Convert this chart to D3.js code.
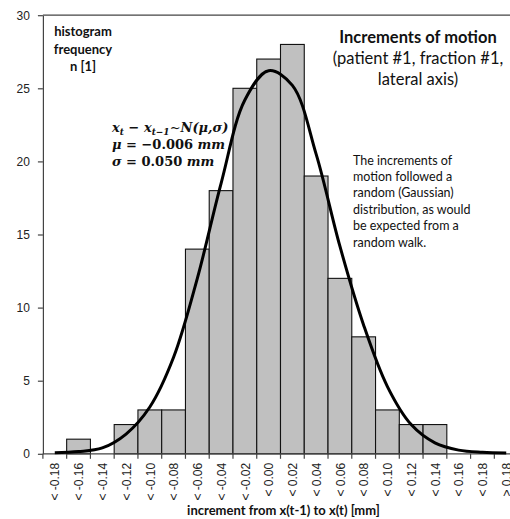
<!DOCTYPE html>
<html><head><meta charset="utf-8">
<script src="https://cdn.jsdelivr.net/npm/d3@7"></script>
<style>
html,body{margin:0;padding:0;background:#fff;overflow:hidden;}
svg{display:block;}
</style></head>
<body>
<svg id="c" width="510" height="519"></svg>
<script>
// ---- data ----
const categories = ["< -0.18","< -0.16","< -0.14","< -0.12","< -0.10","< -0.08","< -0.06","< -0.04","< -0.02","< 0.00",
                    "< 0.02","< 0.04","< 0.06","< 0.08","< 0.10","< 0.12","< 0.14","< 0.16","< 0.18","> 0.18"];
const counts = [0,1,0,2,3,3,14,18,25,27,28,19,12,8,3,2,2,0,0,0];
const gaussFit = [0.08,0.15,0.4,1.35,3.2,6.6,12.0,18.5,24.2,26.2,25.2,20.5,14.2,8.8,4.6,2.0,0.75,0.25,0.1,0.05];
const yTicks = [0,5,10,15,20,25,30];
const yTitle = ["histogram","frequency","n [1]"];
const xTitle = "increment from x(t-1) to x(t) [mm]";
const titleLines = ["Increments of motion","(patient #1, fraction #1,","lateral axis)"];
const noteLines = ["The increments of","motion followed a","random (Gaussian)","distribution, as would","be expected from a","random walk."];

// ---- layout ----
const svg = d3.select("#c");
const pL = 42.9, pR = 518.1, pT = 15.2, pB = 453.8;
const x = d3.scaleBand().domain(categories).range([pL, pR]).padding(0);
const y = d3.scaleLinear().domain([0, 30]).range([pB, pT]);
const bw = x.bandwidth();
const axisColor = "#444";

// bars
svg.append("g").selectAll("rect").data(counts).join("rect")
  .attr("x", (d,i) => x(categories[i]))
  .attr("y", d => y(d))
  .attr("width", bw)
  .attr("height", d => y(0) - y(d))
  .attr("fill", "#c0c0c0")
  .attr("stroke", "#111")
  .attr("stroke-width", 1.1);

// top border
svg.append("line").attr("x1", pL).attr("x2", pR).attr("y1", y(30)).attr("y2", y(30))
  .attr("stroke", axisColor).attr("stroke-width", 1.2);

// y axis
const ya = svg.append("g").attr("transform", `translate(${pL},0)`)
  .call(d3.axisLeft(y).tickValues(yTicks).tickSize(5).tickPadding(8).tickSizeOuter(0));
ya.select(".domain").attr("stroke", axisColor).attr("stroke-width", 1.2);
ya.selectAll(".tick line").attr("stroke", axisColor).attr("stroke-width", 1.2);
ya.selectAll(".tick text").attr("font-family", "Liberation Sans, Arial, sans-serif").attr("font-size", 12).attr("fill", "#222");

// x axis: baseline + boundary ticks
svg.append("line").attr("x1", pL).attr("x2", pR).attr("y1", y(0)).attr("y2", y(0))
  .attr("stroke", axisColor).attr("stroke-width", 1.2);
const bounds = categories.map(c => x(c)).concat([x(categories[categories.length-1]) + bw]);
svg.append("g").selectAll("line").data(bounds).join("line")
  .attr("x1", d => d).attr("x2", d => d).attr("y1", y(0)).attr("y2", y(0) + 5)
  .attr("stroke", axisColor).attr("stroke-width", 1.2);
svg.append("g").selectAll("text").data(categories).join("text")
  .attr("transform", d => `translate(${x(d) + bw/2 + 0.5},${y(0) + 9}) rotate(-90)`)
  .attr("text-anchor", "end")
  .attr("dy", "0.35em")
  .attr("font-family", "Liberation Sans, Arial, sans-serif")
  .attr("font-size", 12)
  .attr("fill", "#222")
  .text(d => d);

// gaussian fit curve
const line = d3.line()
  .x((d,i) => x(categories[i]) + bw/2)
  .y(d => y(d))
  .curve(d3.curveCatmullRom.alpha(0.5));
svg.append("path").datum(gaussFit).attr("d", line)
  .attr("fill", "none").attr("stroke", "#000").attr("stroke-width", 3);

// axis titles
const sansUI = "Lato, 'Open Sans', sans-serif";
svg.append("text").attr("x", 283.5).attr("y", 515)
  .attr("text-anchor", "middle").attr("font-family", sansUI).attr("font-weight", "bold")
  .attr("font-size", 13).attr("fill", "#111").text(xTitle);
svg.append("g").selectAll("text").data(yTitle).join("text")
  .attr("x", 83).attr("y", (d,i) => 36 + i*17.5)
  .attr("text-anchor", "middle").attr("font-family", sansUI).attr("font-weight", "bold")
  .attr("font-size", 13).attr("fill", "#111").text(d => d);

// title
svg.append("g").selectAll("text").data(titleLines).join("text")
  .attr("x", 418).attr("y", (d,i) => 43 + i*21)
  .attr("text-anchor", "middle").attr("font-family", sansUI)
  .attr("font-weight", (d,i) => i === 0 ? "bold" : "normal")
  .attr("font-size", 16.5).attr("fill", "#111").text(d => d);

// note
svg.append("g").selectAll("text").data(noteLines).join("text")
  .attr("x", 353).attr("y", (d,i) => 164.5 + i*16.4)
  .attr("font-family", sansUI).attr("font-size", 12.5).attr("fill", "#111").text(d => d);

// formula
const fserif = "'DejaVu Serif', 'Liberation Serif', serif";
const f = svg.append("g").attr("font-family", fserif).attr("font-weight", "bold")
  .attr("font-size", 13).attr("fill", "#111");
const t1 = f.append("text").attr("x", 112).attr("y", 132);
t1.append("tspan").attr("font-style", "italic").text("x");
t1.append("tspan").attr("font-style", "italic").attr("font-size", 9).attr("dy", 3).text("t");
t1.append("tspan").attr("dy", -3).text(" \u2212 ");
t1.append("tspan").attr("font-style", "italic").text("x");
t1.append("tspan").attr("font-style", "italic").attr("font-size", 9).attr("dy", 3).text("t\u22121");
t1.append("tspan").attr("dy", -3).attr("font-weight", "normal").text("~");
t1.append("tspan").attr("font-style", "italic").text("N(\u03bc,\u03c3)");
const t2 = f.append("text").attr("x", 112).attr("y", 149);
t2.append("tspan").attr("font-style", "italic").text("\u03bc");
t2.append("tspan").text(" = \u22120.006 ");
t2.append("tspan").attr("font-style", "italic").text("mm");
const t3 = f.append("text").attr("x", 112).attr("y", 166);
t3.append("tspan").attr("font-style", "italic").text("\u03c3");
t3.append("tspan").text(" = 0.050 ");
t3.append("tspan").attr("font-style", "italic").text("mm");
</script>
</body></html>
